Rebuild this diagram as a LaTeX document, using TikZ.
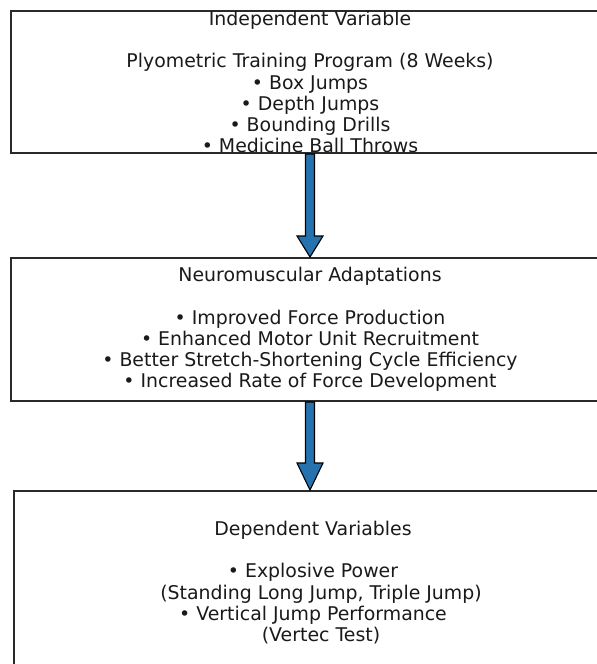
\documentclass[tikz,border=0pt]{standalone}
\usepackage{fontspec}
\setmainfont{DejaVu Sans}
\usetikzlibrary{calc}
\definecolor{flowblue}{HTML}{2572AE}
\definecolor{boxline}{HTML}{2A2A2A}
\definecolor{inktext}{HTML}{1A1A1A}
\tikzset{
  stagebox/.style={draw=boxline, line width=2pt, fill=white, rectangle, inner sep=0pt},
  stagetext/.style={align=center, text=inktext, inner sep=0pt,
    font=\fontsize{18.9}{21.2}\selectfont},
  flowarrow/.style={fill=flowblue, draw=black, line width=1.1pt, line join=miter}
}
\begin{document}
\begin{tikzpicture}[x=1pt, y=-1pt]
  \useasboundingbox (0,0) rectangle (597,664);
  \clip (0,0) rectangle (597,664);
  \fill[white] (0,0) rectangle (597,664);

  % stage boxes
  \node[stagebox, minimum width=598pt, minimum height=142pt] (indep) at (310,82) {};
  \node[stagebox, minimum width=598pt, minimum height=143pt] (neuro) at (310,329.5) {};
  \node[stagebox, minimum width=598pt, minimum height=183pt] (dep) at (313,582.5) {};

  % stage texts
  \node[stagetext] (indeptext) at (indep.center) {Independent Variable\\[21.2pt]
    Plyometric Training Program (8 Weeks)\\
    • Box Jumps\\
    • Depth Jumps\\
    • Bounding Drills\\
    • Medicine Ball Throws};
  \node[stagetext] (neurotext) at (neuro.center) {Neuromuscular Adaptations\\[21.2pt]
    • Improved Force Production\\
    • Enhanced Motor Unit Recruitment\\
    • Better Stretch-Shortening Cycle Efficiency\\
    • Increased Rate of Force Development};
  \node[stagetext] (deptext) at (dep.center) {Dependent Variables\\[21.2pt]
    • Explosive Power\\
    \hspace*{16pt}(Standing Long Jump, Triple Jump)\\
    • Vertical Jump Performance\\
    \hspace*{16pt}(Vertec Test)};

  % tips of the block arrows, straight below their sources
  \coordinate (tipA) at (indep.south |- neuro.north);
  \coordinate (tipB) at (neuro.south |- dep.north);

  % block arrows between stages
  \draw[flowarrow]
    ($(indep.south)+(-4.5,0)$) -- ($(tipA)+(-4.5,-21)$) --
    ($(tipA)+(-13,-21)$) -- (tipA) --
    ($(tipA)+(13,-21)$) -- ($(tipA)+(4.5,-21)$) --
    ($(indep.south)+(4.5,0)$) -- cycle;
  \draw[flowarrow]
    ($(neuro.south)+(-4.5,0)$) -- ($(tipB)+(-4.5,-27)$) --
    ($(tipB)+(-13,-27)$) -- (tipB) --
    ($(tipB)+(13,-27)$) -- ($(tipB)+(4.5,-27)$) --
    ($(neuro.south)+(4.5,0)$) -- cycle;
\end{tikzpicture}
\end{document}
